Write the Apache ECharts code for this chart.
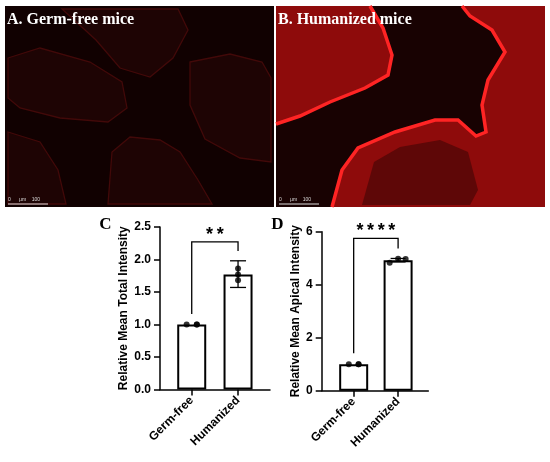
<!DOCTYPE html>
<html><head><meta charset="utf-8">
<script src="https://cdn.jsdelivr.net/npm/echarts@6/dist/echarts.min.js"></script>
<style>html,body{margin:0;padding:0;background:#fff}#c{width:550px;height:462px}</style>
</head><body><div id="c"></div>
<script>
// ---------- data ----------
const categories = ['Germ-free', 'Humanized'];
const categoryPos = [1, 2];
const jitterGF = [-0.11, 0.11, 0.11];
const jitterHU_C = [0, 0, 0];
const jitterHU_D = [-0.19, 0, 0.17];

// Panel C: Relative Mean Total Intensity
const totalMeans = [1.0, 1.77];
const totalErrLow = [1.0, 1.57];
const totalErrHigh = [1.0, 1.98];
const totalPointsGF = [1.0, 1.0, 1.0];
const totalPointsHU = [1.86, 1.77, 1.68];
const totalTicks = { min: 0, max: 2.5, interval: 0.5 };
const totalSig = { label: '*\u2009*', top: 2.27, leftEnd: 1.16, rightEnd: 2.13 };

// Panel D: Relative Mean Apical Intensity
const apicalMeans = [1.0, 4.92];
const apicalErrLow = [1.0, 4.86];
const apicalErrHigh = [1.0, 4.99];
const apicalPointsGF = [1.0, 1.0, 1.0];
const apicalPointsHU = [4.83, 4.98, 4.97];
const apicalTicks = { min: 0, max: 6, interval: 2 };
const apicalSig = { label: '*\u2009*\u2009*\u2009*', top: 5.75, leftEnd: 1.41, rightEnd: 5.37 };

// ---------- helpers ----------
const SANS = 'Liberation Sans, Arial, sans-serif';
const SERIF = 'Liberation Serif, Times New Roman, serif';

function pts(vals, jit, pos) { return vals.map((v, i) => [pos + jit[i], v]); }
function bars(means) { return means.map((v, i) => [categoryPos[i], v]); }
function errs(lo, hi) { return lo.map((l, i) => [categoryPos[i], l, hi[i]]); }

function errorItem(capHalf) {
  return function (params, api) {
    const x = api.value(0), lo = api.value(1), hi = api.value(2);
    if (hi - lo < 1e-9) return null;
    const a = api.coord([x, lo]), b = api.coord([x, hi]);
    const st = { stroke: '#000', lineWidth: 1.3 };
    return { type: 'group', children: [
      { type: 'line', shape: { x1: a[0], y1: a[1], x2: b[0], y2: b[1] }, style: st },
      { type: 'line', shape: { x1: a[0] - capHalf, y1: a[1], x2: a[0] + capHalf, y2: a[1] }, style: st },
      { type: 'line', shape: { x1: b[0] - capHalf, y1: b[1], x2: b[0] + capHalf, y2: b[1] }, style: st }
    ]};
  };
}
function bracketItem(label) {
  return function (params, api) {
    const x1 = api.value(0), x2 = api.value(1), yt = api.value(2), yl = api.value(3), yr = api.value(4);
    const pL = api.coord([x1, yl]), pLT = api.coord([x1, yt]), pRT = api.coord([x2, yt]), pR = api.coord([x2, yr]);
    return { type: 'group', children: [
      { type: 'polyline', shape: { points: [pL, pLT, pRT, pR] }, style: { stroke: '#000', lineWidth: 1.3, fill: null } },
      { type: 'text', x: (pLT[0] + pRT[0]) / 2, y: pLT[1] - 7,
        style: { text: label, fill: '#000', font: 'bold 18px ' + SANS, align: 'center', verticalAlign: 'middle' } }
    ]};
  };
}
function yAxisCfg(gi, ticks, name, gap, fmt) {
  return {
    type: 'value', gridIndex: gi, min: ticks.min, max: ticks.max, interval: ticks.interval,
    name: name, nameLocation: 'middle', nameGap: gap,
    nameTextStyle: { fontFamily: SANS, fontWeight: 'bold', fontSize: 12, color: '#000' },
    axisLine: { show: true, onZero: false, lineStyle: { color: '#000', width: 1.5 } },
    axisTick: { show: true, length: 6, lineStyle: { color: '#000', width: 1.5 } },
    axisLabel: { margin: 9, fontFamily: SANS, fontWeight: 'bold', fontSize: 12, color: '#000', formatter: fmt },
    splitLine: { show: false }
  };
}
function xAxisCfg(gi, min, max) {
  return {
    type: 'value', gridIndex: gi, min: min, max: max,
    axisLine: { show: true, onZero: false, lineStyle: { color: '#000', width: 1.5 } },
    axisTick: { show: true, length: 6, customValues: categoryPos, lineStyle: { color: '#000', width: 1.5 } },
    axisLabel: { customValues: categoryPos, rotate: 45, margin: 9, fontFamily: SANS, fontWeight: 'bold',
      fontSize: 12, color: '#000', formatter: v => categories[Math.round(v) - 1] || '' },
    splitLine: { show: false }
  };
}
function seriesFor(idx, means, lo, hi, gf, hu, huJit, sig, capHalf, barW) {
  return [
    { type: 'bar', xAxisIndex: idx, yAxisIndex: idx, data: bars(means), barWidth: barW, z: 2,
      itemStyle: { color: '#fff', borderColor: '#000', borderWidth: 2 } },
    { type: 'custom', xAxisIndex: idx, yAxisIndex: idx, data: errs(lo, hi), renderItem: errorItem(capHalf), z: 3 },
    { type: 'scatter', xAxisIndex: idx, yAxisIndex: idx, symbolSize: 6, itemStyle: { color: '#000' }, z: 4,
      data: pts(gf, jitterGF, categoryPos[0]).concat(pts(hu, huJit, categoryPos[1])) },
    { type: 'custom', xAxisIndex: idx, yAxisIndex: idx, renderItem: bracketItem(sig.label), z: 5,
      data: [[categoryPos[0], categoryPos[1], sig.top, sig.leftEnd, sig.rightEnd]] }
  ];
}

// ---------- decorative micrographs ----------
const faint = { fill: '#1e0404', stroke: '#420909', lineWidth: 1.3 };
const edgeB1 = [[370,6],[383,28],[392,55],[388,75],[365,88],[330,102],[300,116],[276,124]];
const edgeB2 = [[332,207],[342,170],[358,148],[395,132],[435,120],[458,120],[476,136],[486,132],[482,105],[488,80],[505,52],[492,30],[470,16],[462,6]];
const graphics = [
  { type: 'rect', shape: { x: 5, y: 6, width: 269, height: 201 }, style: { fill: '#110101' } },
  { type: 'polygon', shape: { points: [[8,58],[40,48],[90,62],[122,82],[127,108],[108,122],[60,118],[20,108],[8,98]] }, style: faint },
  { type: 'polygon', shape: { points: [[62,9],[178,9],[188,30],[173,58],[150,77],[120,68],[96,40]] }, style: faint },
  { type: 'polygon', shape: { points: [[190,62],[230,54],[262,62],[271,78],[271,162],[240,158],[205,139],[190,105]] }, style: faint },
  { type: 'polygon', shape: { points: [[108,204],[112,152],[130,137],[160,140],[180,152],[198,180],[212,204]] }, style: faint },
  { type: 'polygon', shape: { points: [[8,132],[40,142],[58,170],[66,204],[8,204]] }, style: faint },
  { type: 'rect', shape: { x: 276, y: 6, width: 269, height: 201 }, style: { fill: '#180202' } },
  { type: 'polygon', shape: { points: [[276,6]].concat(edgeB1) }, style: { fill: '#8e0b0b' } },
  { type: 'polygon', shape: { points: edgeB2.concat([[545,6],[545,207]]) }, style: { fill: '#8e0b0b' } },
  { type: 'polygon', shape: { points: [[362,205],[374,162],[400,147],[440,140],[468,152],[478,190],[470,205]] }, style: { fill: '#5e0707' } },
  { type: 'polyline', shape: { points: edgeB1 }, style: { stroke: '#ff2424', lineWidth: 3.5, fill: null } },
  { type: 'polyline', shape: { points: edgeB2 }, style: { stroke: '#ff2424', lineWidth: 3.5, fill: null } },
  { type: 'line', shape: { x1: 8, y1: 204, x2: 48, y2: 204 }, style: { stroke: '#ddd', lineWidth: 1 } },
  { type: 'text', x: 8, y: 200, style: { text: '0      µm    100', fill: '#ddd', font: '5px ' + SANS, verticalAlign: 'middle' } },
  { type: 'line', shape: { x1: 279, y1: 204, x2: 319, y2: 204 }, style: { stroke: '#ddd', lineWidth: 1 } },
  { type: 'text', x: 279, y: 200, style: { text: '0      µm    100', fill: '#ddd', font: '5px ' + SANS, verticalAlign: 'middle' } },
  { type: 'text', x: 7, y: 19.5, style: { text: 'A. Germ-free mice', fill: '#fff', font: 'bold 16px ' + SERIF, verticalAlign: 'middle' } },
  { type: 'text', x: 278, y: 19.5, style: { text: 'B. Humanized mice', fill: '#fff', font: 'bold 16px ' + SERIF, verticalAlign: 'middle' } },
  { type: 'text', x: 105.5, y: 225, style: { text: 'C', fill: '#000', font: 'bold 17px ' + SERIF, align: 'center', verticalAlign: 'middle' } },
  { type: 'text', x: 277.5, y: 225, style: { text: 'D', fill: '#000', font: 'bold 17px ' + SERIF, align: 'center', verticalAlign: 'middle' } }
];

const chart = echarts.init(document.getElementById('c'), null, { renderer: 'canvas' });
chart.setOption({
  backgroundColor: '#fff',
  animation: false,
  graphic: graphics,
  grid: [
    { left: 160, right: 280, top: 227, bottom: 72.5, outerBoundsMode: 'none', containLabel: false },
    { left: 321.7, right: 121.7, top: 231.7, bottom: 71.3, outerBoundsMode: 'none', containLabel: false }
  ],
  xAxis: [xAxisCfg(0, 0.315, 2.69), xAxisCfg(1, 0.28, 2.68)],
  yAxis: [
    yAxisCfg(0, totalTicks, 'Relative Mean Total Intensity', 30, v => v.toFixed(1)),
    yAxisCfg(1, apicalTicks, 'Relative Mean Apical Intensity', 20, v => String(v))
  ],
  series: seriesFor(0, totalMeans, totalErrLow, totalErrHigh, totalPointsGF, totalPointsHU, jitterHU_C, totalSig, 8, 29)
    .concat(seriesFor(1, apicalMeans, apicalErrLow, apicalErrHigh, apicalPointsGF, apicalPointsHU, jitterHU_D, apicalSig, 7.5, 29))
});
</script></body></html>
